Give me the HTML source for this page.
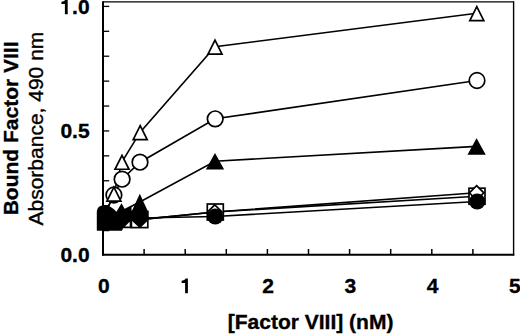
<!DOCTYPE html>
<html><head><meta charset="utf-8"><style>
html,body{margin:0;padding:0;background:#fff;width:520px;height:334px;overflow:hidden}
svg{display:block}
text{font-family:"Liberation Sans",sans-serif;font-size:21px;fill:#000;stroke:#000;stroke-width:0.35px}
.b{font-weight:bold}
.r{font-weight:normal}
</style></head><body>
<svg width="520" height="334" viewBox="0 0 520 334">
<line x1="103" y1="1.8" x2="513.6" y2="1.8" stroke="#000" stroke-width="1.3"/>
<line x1="513.6" y1="1.2" x2="513.6" y2="255.5" stroke="#000" stroke-width="1.4"/>
<line x1="103" y1="1.2" x2="103" y2="255.5" stroke="#000" stroke-width="2"/>
<line x1="102" y1="254.7" x2="514.3" y2="254.7" stroke="#000" stroke-width="2"/>
<line x1="104" y1="230.59" x2="109.2" y2="230.59" stroke="#000" stroke-width="1.3"/>
<line x1="104" y1="205.68" x2="109.2" y2="205.68" stroke="#000" stroke-width="1.3"/>
<line x1="104" y1="180.77" x2="109.2" y2="180.77" stroke="#000" stroke-width="1.3"/>
<line x1="104" y1="155.86" x2="109.2" y2="155.86" stroke="#000" stroke-width="1.3"/>
<line x1="104" y1="130.95" x2="109.2" y2="130.95" stroke="#000" stroke-width="1.3"/>
<line x1="104" y1="106.04" x2="109.2" y2="106.04" stroke="#000" stroke-width="1.3"/>
<line x1="104" y1="81.13" x2="109.2" y2="81.13" stroke="#000" stroke-width="1.3"/>
<line x1="104" y1="56.22" x2="109.2" y2="56.22" stroke="#000" stroke-width="1.3"/>
<line x1="104" y1="31.31" x2="109.2" y2="31.31" stroke="#000" stroke-width="1.3"/>
<line x1="104" y1="6.40" x2="109.2" y2="6.40" stroke="#000" stroke-width="1.3"/>
<line x1="144.10" y1="254" x2="144.10" y2="249" stroke="#000" stroke-width="1.5"/>
<line x1="185.20" y1="254" x2="185.20" y2="249" stroke="#000" stroke-width="1.5"/>
<line x1="226.30" y1="254" x2="226.30" y2="249" stroke="#000" stroke-width="1.5"/>
<line x1="267.40" y1="254" x2="267.40" y2="249" stroke="#000" stroke-width="1.5"/>
<line x1="308.50" y1="254" x2="308.50" y2="249" stroke="#000" stroke-width="1.5"/>
<line x1="349.60" y1="254" x2="349.60" y2="249" stroke="#000" stroke-width="1.5"/>
<line x1="390.70" y1="254" x2="390.70" y2="249" stroke="#000" stroke-width="1.5"/>
<line x1="431.80" y1="254" x2="431.80" y2="249" stroke="#000" stroke-width="1.5"/>
<line x1="472.90" y1="254" x2="472.90" y2="249" stroke="#000" stroke-width="1.5"/>
<text x="89.6" y="261.72" text-anchor="end" class="b">0.0</text>
<text x="89.6" y="138.12" text-anchor="end" class="b">0.5</text>
<text x="89.6" y="13.52" text-anchor="end" class="b">.0</text>
<path transform="translate(-120.20,-279.00)" d="M187.9 278.5 L187.9 293.2 L185.1 293.2 L185.1 283.1 L181.6 283.1 L181.6 280.7 C183.5 280.6 185 279.8 185.6 278.5 Z" fill="#000"/>
<text x="103.80" y="292.6" text-anchor="middle" class="b">0</text>
<path transform="translate(0.00,0.00)" d="M187.9 278.5 L187.9 293.2 L185.1 293.2 L185.1 283.1 L181.6 283.1 L181.6 280.7 C183.5 280.6 185 279.8 185.6 278.5 Z" fill="#000"/>
<text x="268.20" y="292.6" text-anchor="middle" class="b">2</text>
<text x="350.40" y="292.6" text-anchor="middle" class="b">3</text>
<text x="432.60" y="292.6" text-anchor="middle" class="b">4</text>
<text x="514.80" y="292.6" text-anchor="middle" class="b">5</text>
<text x="310.6" y="328.6" text-anchor="middle" class="b">[Factor VIII] (nM)</text>
<text transform="translate(17.8,128.4) rotate(-90)" text-anchor="middle" class="b">Bound Factor VIII</text>
<text transform="translate(43,128.6) rotate(-90)" text-anchor="middle" class="r">Absorbance, 490 nm</text>
<polyline points="105.00,214.00 113.90,195.00 122.10,179.20 140.00,162.20 215.20,118.80 477.00,80.50" fill="none" stroke="#000" stroke-width="1.6"/>
<polyline points="105.00,214.00 113.90,193.60 122.00,161.80 140.20,132.20 215.00,46.70 476.80,13.20" fill="none" stroke="#000" stroke-width="1.6"/>
<polyline points="105.00,221.50 114.00,221.50 122.00,220.00 139.50,219.60 215.30,212.00 477.00,196.20" fill="none" stroke="#000" stroke-width="1.6"/>
<polyline points="105.00,219.00 114.00,219.00 122.00,218.00 139.70,219.60 214.80,212.00 476.60,192.80" fill="none" stroke="#000" stroke-width="1.6"/>
<polyline points="104.50,213.50 114.00,220.00 122.00,218.00 140.00,218.00 215.30,216.50 477.20,201.50" fill="none" stroke="#000" stroke-width="1.6"/>
<polyline points="105.00,221.00 114.00,221.00 121.80,211.20 139.80,202.00 215.00,161.20 476.60,146.40" fill="none" stroke="#000" stroke-width="1.6"/>
<circle cx="113.90" cy="195.00" r="7.8" fill="#fff" stroke="#000" stroke-width="1.7"/>
<circle cx="122.10" cy="179.20" r="7.8" fill="#fff" stroke="#000" stroke-width="1.7"/>
<circle cx="140.00" cy="162.20" r="7.8" fill="#fff" stroke="#000" stroke-width="1.7"/>
<circle cx="215.20" cy="118.80" r="7.8" fill="#fff" stroke="#000" stroke-width="1.7"/>
<circle cx="477.00" cy="80.50" r="7.8" fill="#fff" stroke="#000" stroke-width="1.7"/>
<polygon points="113.90,187.10 106.90,201.05 120.90,201.05" fill="#fff" stroke="#000" stroke-width="1.7"/>
<polygon points="122.00,155.30 115.00,169.25 129.00,169.25" fill="#fff" stroke="#000" stroke-width="1.7"/>
<polygon points="140.20,125.70 133.20,139.65 147.20,139.65" fill="#fff" stroke="#000" stroke-width="1.7"/>
<polygon points="215.00,40.20 208.00,54.15 222.00,54.15" fill="#fff" stroke="#000" stroke-width="1.7"/>
<polygon points="476.80,6.70 469.80,20.65 483.80,20.65" fill="#fff" stroke="#000" stroke-width="1.7"/>
<path d="M96.8 230.8 L96.8 211.5 Q97.5 205.3 104 205.2 L107.5 205.6 Q111 206.5 116.5 211.8 L121.5 203.3 L125 209.5 L131.5 206.2 L131.5 228.2 L123 228.2 L122 230.8 Z" fill="#000"/><path d="M129.7 221.8 L129.7 226.5 L124.9 226.5 Z" fill="#fff"/>
<rect x="207.30" y="204.00" width="16.00" height="16.00" fill="#fff" stroke="#000" stroke-width="1.7"/>
<rect x="469.00" y="188.20" width="16.00" height="16.00" fill="#fff" stroke="#000" stroke-width="1.7"/>
<rect x="131.4" y="211.4" width="16.4" height="16.2" fill="#fff" stroke="#000" stroke-width="1.7"/>
<polygon points="214.80,204.80 222.00,212.00 214.80,219.20 207.60,212.00" fill="#fff" stroke="#000" stroke-width="1.7"/>
<polygon points="476.60,185.60 483.80,192.80 476.60,200.00 469.40,192.80" fill="#fff" stroke="#000" stroke-width="1.7"/>
<circle cx="215.30" cy="216.50" r="8.0" fill="#000"/>
<circle cx="477.20" cy="201.50" r="8.0" fill="#000"/>
<polygon points="215.00,154.70 207.30,168.65 222.70,168.65" fill="#000" stroke="#000" stroke-width="1.7"/>
<polygon points="476.60,139.90 468.90,153.85 484.30,153.85" fill="#000" stroke="#000" stroke-width="1.7"/>
<path d="M139.8 193.8 L148.3 212.3 L148.3 220.2 L139.8 228.3 L131.3 220.2 L131.3 212.3 Z" fill="#000"/>
</svg>
</body></html>
